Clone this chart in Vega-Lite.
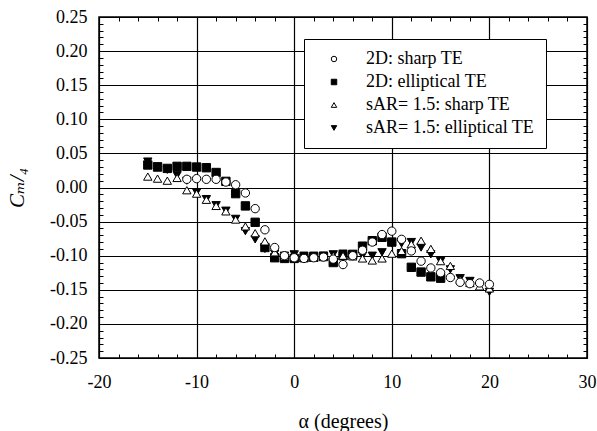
{
  "$schema": "https://vega.github.io/schema/vega-lite/v6.json",
  "width": 488,
  "height": 341,
  "autosize": {"type": "none"},
  "padding": {"left": 99, "top": 17, "right": 10, "bottom": 73},
  "background": "white",
  "config": {
    "view": {"stroke": "black", "strokeWidth": 1.5},
    "font": "Liberation Serif, Times New Roman, DejaVu Serif, serif"
  },
  "datasets": {
    "pts": [
      {"s": "2D: elliptical TE", "a": -15, "cm": 0.033},
      {"s": "2D: elliptical TE", "a": -14, "cm": 0.030},
      {"s": "2D: elliptical TE", "a": -13, "cm": 0.028},
      {"s": "2D: elliptical TE", "a": -12, "cm": 0.031},
      {"s": "2D: elliptical TE", "a": -11, "cm": 0.031},
      {"s": "2D: elliptical TE", "a": -10, "cm": 0.030},
      {"s": "2D: elliptical TE", "a": -9, "cm": 0.029},
      {"s": "2D: elliptical TE", "a": -8, "cm": 0.022},
      {"s": "2D: elliptical TE", "a": -7, "cm": 0.009},
      {"s": "2D: elliptical TE", "a": -6, "cm": -0.009},
      {"s": "2D: elliptical TE", "a": -5, "cm": -0.027},
      {"s": "2D: elliptical TE", "a": -4, "cm": -0.051},
      {"s": "2D: elliptical TE", "a": -3, "cm": -0.088},
      {"s": "2D: elliptical TE", "a": -2, "cm": -0.103},
      {"s": "2D: elliptical TE", "a": -1, "cm": -0.104},
      {"s": "2D: elliptical TE", "a": 0, "cm": -0.104},
      {"s": "2D: elliptical TE", "a": 1, "cm": -0.103},
      {"s": "2D: elliptical TE", "a": 2, "cm": -0.102},
      {"s": "2D: elliptical TE", "a": 3, "cm": -0.101},
      {"s": "2D: elliptical TE", "a": 4, "cm": -0.110},
      {"s": "2D: elliptical TE", "a": 5, "cm": -0.100},
      {"s": "2D: elliptical TE", "a": 6, "cm": -0.098},
      {"s": "2D: elliptical TE", "a": 7, "cm": -0.086},
      {"s": "2D: elliptical TE", "a": 8, "cm": -0.078},
      {"s": "2D: elliptical TE", "a": 9, "cm": -0.073},
      {"s": "2D: elliptical TE", "a": 10, "cm": -0.080},
      {"s": "2D: elliptical TE", "a": 11, "cm": -0.097},
      {"s": "2D: elliptical TE", "a": 12, "cm": -0.117},
      {"s": "2D: elliptical TE", "a": 13, "cm": -0.124},
      {"s": "2D: elliptical TE", "a": 14, "cm": -0.131},
      {"s": "2D: elliptical TE", "a": 15, "cm": -0.133},

      {"s": "sAR= 1.5: elliptical TE", "a": -15, "cm": 0.038},
      {"s": "sAR= 1.5: elliptical TE", "a": -14, "cm": 0.031},
      {"s": "sAR= 1.5: elliptical TE", "a": -13, "cm": 0.026},
      {"s": "sAR= 1.5: elliptical TE", "a": -12, "cm": 0.018},
      {"s": "sAR= 1.5: elliptical TE", "a": -11, "cm": 0.010},
      {"s": "sAR= 1.5: elliptical TE", "a": -10, "cm": -0.007},
      {"s": "sAR= 1.5: elliptical TE", "a": -9, "cm": -0.017},
      {"s": "sAR= 1.5: elliptical TE", "a": -8, "cm": -0.026},
      {"s": "sAR= 1.5: elliptical TE", "a": -7, "cm": -0.034},
      {"s": "sAR= 1.5: elliptical TE", "a": -6, "cm": -0.046},
      {"s": "sAR= 1.5: elliptical TE", "a": -5, "cm": -0.064},
      {"s": "sAR= 1.5: elliptical TE", "a": -4, "cm": -0.076},
      {"s": "sAR= 1.5: elliptical TE", "a": -3, "cm": -0.090},
      {"s": "sAR= 1.5: elliptical TE", "a": -2, "cm": -0.097},
      {"s": "sAR= 1.5: elliptical TE", "a": -1, "cm": -0.100},
      {"s": "sAR= 1.5: elliptical TE", "a": 0, "cm": -0.098},
      {"s": "sAR= 1.5: elliptical TE", "a": 1, "cm": -0.100},
      {"s": "sAR= 1.5: elliptical TE", "a": 2, "cm": -0.100},
      {"s": "sAR= 1.5: elliptical TE", "a": 3, "cm": -0.100},
      {"s": "sAR= 1.5: elliptical TE", "a": 4, "cm": -0.098},
      {"s": "sAR= 1.5: elliptical TE", "a": 5, "cm": -0.097},
      {"s": "sAR= 1.5: elliptical TE", "a": 6, "cm": -0.100},
      {"s": "sAR= 1.5: elliptical TE", "a": 7, "cm": -0.100},
      {"s": "sAR= 1.5: elliptical TE", "a": 8, "cm": -0.100},
      {"s": "sAR= 1.5: elliptical TE", "a": 9, "cm": -0.095},
      {"s": "sAR= 1.5: elliptical TE", "a": 10, "cm": -0.082},
      {"s": "sAR= 1.5: elliptical TE", "a": 11, "cm": -0.082},
      {"s": "sAR= 1.5: elliptical TE", "a": 12, "cm": -0.080},
      {"s": "sAR= 1.5: elliptical TE", "a": 13, "cm": -0.088},
      {"s": "sAR= 1.5: elliptical TE", "a": 14, "cm": -0.098},
      {"s": "sAR= 1.5: elliptical TE", "a": 15, "cm": -0.108},
      {"s": "sAR= 1.5: elliptical TE", "a": 16, "cm": -0.120},
      {"s": "sAR= 1.5: elliptical TE", "a": 17, "cm": -0.133},
      {"s": "sAR= 1.5: elliptical TE", "a": 18, "cm": -0.137},
      {"s": "sAR= 1.5: elliptical TE", "a": 19, "cm": -0.145},
      {"s": "sAR= 1.5: elliptical TE", "a": 20, "cm": -0.153},

      {"s": "sAR= 1.5: sharp TE", "a": -15, "cm": 0.016},
      {"s": "sAR= 1.5: sharp TE", "a": -14, "cm": 0.013},
      {"s": "sAR= 1.5: sharp TE", "a": -13, "cm": 0.010},
      {"s": "sAR= 1.5: sharp TE", "a": -12, "cm": 0.014},
      {"s": "sAR= 1.5: sharp TE", "a": -11, "cm": -0.004},
      {"s": "sAR= 1.5: sharp TE", "a": -10, "cm": -0.009},
      {"s": "sAR= 1.5: sharp TE", "a": -9, "cm": -0.018},
      {"s": "sAR= 1.5: sharp TE", "a": -8, "cm": -0.027},
      {"s": "sAR= 1.5: sharp TE", "a": -7, "cm": -0.035},
      {"s": "sAR= 1.5: sharp TE", "a": -6, "cm": -0.047},
      {"s": "sAR= 1.5: sharp TE", "a": -5, "cm": -0.057},
      {"s": "sAR= 1.5: sharp TE", "a": -4, "cm": -0.067},
      {"s": "sAR= 1.5: sharp TE", "a": -3, "cm": -0.079},
      {"s": "sAR= 1.5: sharp TE", "a": -2, "cm": -0.095},
      {"s": "sAR= 1.5: sharp TE", "a": -1, "cm": -0.101},
      {"s": "sAR= 1.5: sharp TE", "a": 0, "cm": -0.102},
      {"s": "sAR= 1.5: sharp TE", "a": 1, "cm": -0.103},
      {"s": "sAR= 1.5: sharp TE", "a": 2, "cm": -0.103},
      {"s": "sAR= 1.5: sharp TE", "a": 3, "cm": -0.102},
      {"s": "sAR= 1.5: sharp TE", "a": 4, "cm": -0.100},
      {"s": "sAR= 1.5: sharp TE", "a": 5, "cm": -0.100},
      {"s": "sAR= 1.5: sharp TE", "a": 6, "cm": -0.101},
      {"s": "sAR= 1.5: sharp TE", "a": 7, "cm": -0.104},
      {"s": "sAR= 1.5: sharp TE", "a": 8, "cm": -0.107},
      {"s": "sAR= 1.5: sharp TE", "a": 9, "cm": -0.104},
      {"s": "sAR= 1.5: sharp TE", "a": 10, "cm": -0.097},
      {"s": "sAR= 1.5: sharp TE", "a": 11, "cm": -0.093},
      {"s": "sAR= 1.5: sharp TE", "a": 12, "cm": -0.083},
      {"s": "sAR= 1.5: sharp TE", "a": 13, "cm": -0.078},
      {"s": "sAR= 1.5: sharp TE", "a": 14, "cm": -0.090},
      {"s": "sAR= 1.5: sharp TE", "a": 15, "cm": -0.108},
      {"s": "sAR= 1.5: sharp TE", "a": 16, "cm": -0.115},
      {"s": "sAR= 1.5: sharp TE", "a": 17, "cm": -0.135},
      {"s": "sAR= 1.5: sharp TE", "a": 18, "cm": -0.140},
      {"s": "sAR= 1.5: sharp TE", "a": 19, "cm": -0.145},
      {"s": "sAR= 1.5: sharp TE", "a": 20, "cm": -0.148},

      {"s": "2D: sharp TE", "a": -11, "cm": 0.012},
      {"s": "2D: sharp TE", "a": -10, "cm": 0.013},
      {"s": "2D: sharp TE", "a": -9, "cm": 0.012},
      {"s": "2D: sharp TE", "a": -8, "cm": 0.012},
      {"s": "2D: sharp TE", "a": -7, "cm": 0.008},
      {"s": "2D: sharp TE", "a": -6, "cm": 0.004},
      {"s": "2D: sharp TE", "a": -5, "cm": -0.008},
      {"s": "2D: sharp TE", "a": -4, "cm": -0.031},
      {"s": "2D: sharp TE", "a": -3, "cm": -0.062},
      {"s": "2D: sharp TE", "a": -2, "cm": -0.088},
      {"s": "2D: sharp TE", "a": -1, "cm": -0.100},
      {"s": "2D: sharp TE", "a": 0, "cm": -0.103},
      {"s": "2D: sharp TE", "a": 1, "cm": -0.104},
      {"s": "2D: sharp TE", "a": 2, "cm": -0.103},
      {"s": "2D: sharp TE", "a": 3, "cm": -0.102},
      {"s": "2D: sharp TE", "a": 4, "cm": -0.105},
      {"s": "2D: sharp TE", "a": 5, "cm": -0.113},
      {"s": "2D: sharp TE", "a": 6, "cm": -0.100},
      {"s": "2D: sharp TE", "a": 7, "cm": -0.092},
      {"s": "2D: sharp TE", "a": 8, "cm": -0.080},
      {"s": "2D: sharp TE", "a": 9, "cm": -0.069},
      {"s": "2D: sharp TE", "a": 10, "cm": -0.064},
      {"s": "2D: sharp TE", "a": 11, "cm": -0.076},
      {"s": "2D: sharp TE", "a": 12, "cm": -0.093},
      {"s": "2D: sharp TE", "a": 13, "cm": -0.108},
      {"s": "2D: sharp TE", "a": 14, "cm": -0.118},
      {"s": "2D: sharp TE", "a": 15, "cm": -0.125},
      {"s": "2D: sharp TE", "a": 16, "cm": -0.132},
      {"s": "2D: sharp TE", "a": 17, "cm": -0.139},
      {"s": "2D: sharp TE", "a": 18, "cm": -0.141},
      {"s": "2D: sharp TE", "a": 19, "cm": -0.140},
      {"s": "2D: sharp TE", "a": 20, "cm": -0.142}
    ]
  },
  "data": {"name": "pts"},
  "resolve": {"axis": {"x": "independent", "y": "independent"}},
  "layer": [
    {
      "mark": {"type": "point", "filled": true, "stroke": "black", "strokeWidth": 1, "size": 70, "opacity": 1},
      "encoding": {
        "x": {
          "field": "a", "type": "quantitative",
          "scale": {"domain": [-20, 30], "nice": false, "zero": false},
          "axis": {
            "orient": "bottom",
            "title": "α (degrees)",
            "titleFont": "Liberation Serif, Times New Roman, DejaVu Serif, serif", "titleFontSize": 20, "titleFontWeight": "normal", "titleColor": "black",
            "titlePadding": 20,
            "values": [-20, -18, -16, -14, -12, -10, -8, -6, -4, -2, 0, 2, 4, 6, 8, 10, 12, 14, 16, 18, 20, 22, 24, 26, 28, 30],
            "labelExpr": "datum.value % 10 == 0 ? replace(format(datum.value, 'd'), '−', '-') : ''",
            "labelFont": "Liberation Serif, Times New Roman, DejaVu Serif, serif", "labelFontSize": 18, "labelColor": "black",
            "labelPadding": 19, "labelFlush": false,
            "domain": false,
            "tickColor": "black", "tickSize": -4, "tickWidth": 1,
            "grid": true, "gridColor": "black", "gridWidth": 1.2,
            "gridOpacity": {"condition": {"test": "datum.value % 10 == 0", "value": 1}, "value": 0}
          }
        },
        "y": {
          "field": "cm", "type": "quantitative",
          "scale": {"domain": [-0.25, 0.25], "nice": false, "zero": false},
          "axis": {
            "orient": "left",
            "title": "Cₘ/₄",
            "titleFont": "Liberation Serif, Times New Roman, DejaVu Serif, serif", "titleFontSize": 21, "titleFontStyle": "italic", "titleFontWeight": "normal", "titleColor": "black",
            "titlePadding": 22,
            "values": [-0.25, -0.24, -0.23, -0.22, -0.21, -0.2, -0.19, -0.18, -0.17, -0.16, -0.15, -0.14, -0.13, -0.12, -0.11, -0.1, -0.09, -0.08, -0.07, -0.06, -0.05, -0.04, -0.03, -0.02, -0.01, 0, 0.01, 0.02, 0.03, 0.04, 0.05, 0.06, 0.07, 0.08, 0.09, 0.1, 0.11, 0.12, 0.13, 0.14, 0.15, 0.16, 0.17, 0.18, 0.19, 0.2, 0.21, 0.22, 0.23, 0.24, 0.25],
            "labelExpr": "abs(round(datum.value * 100)) % 5 == 0 ? replace(format(datum.value, '.2f'), '−', '-') : ''",
            "labelFont": "Liberation Serif, Times New Roman, DejaVu Serif, serif", "labelFontSize": 18, "labelColor": "black",
            "labelPadding": 16, "labelFlush": false,
            "domain": false,
            "tickColor": "black", "tickSize": -4, "tickWidth": 1,
            "grid": true, "gridColor": "black", "gridWidth": 1.2,
            "gridOpacity": {"condition": {"test": "abs(round(datum.value * 100)) % 5 == 0", "value": 1}, "value": 0}
          }
        },
        "shape": {
          "field": "s", "type": "nominal",
          "scale": {
            "domain": ["2D: sharp TE", "2D: elliptical TE", "sAR= 1.5: sharp TE", "sAR= 1.5: elliptical TE"],
            "range": ["circle", "square", "triangle-up", "triangle-down"]
          },
          "legend": {
            "title": null, "orient": "none", "legendX": 205, "legendY": 22,
            "fillColor": "white", "strokeColor": "black",
            "padding": 11, "rowPadding": 5, "symbolOffset": 10,
            "symbolSize": 30, "symbolStrokeColor": "black", "symbolStrokeWidth": 1, "symbolOpacity": 1,
            "labelFont": "Liberation Serif, Times New Roman, DejaVu Serif, serif", "labelFontSize": 18, "labelColor": "black",
            "labelOffset": 23, "labelLimit": 400,
            "encode": {"symbols": {"update": {"stroke": {"value": "black"}, "strokeWidth": {"value": 1}, "opacity": {"value": 1}}}}
          }
        },
        "fill": {
          "field": "s", "type": "nominal",
          "scale": {
            "domain": ["2D: sharp TE", "2D: elliptical TE", "sAR= 1.5: sharp TE", "sAR= 1.5: elliptical TE"],
            "range": ["white", "black", "white", "black"]
          },
          "legend": {
            "title": null, "orient": "none", "legendX": 205, "legendY": 22,
            "fillColor": "white", "strokeColor": "black",
            "padding": 11, "rowPadding": 5, "symbolOffset": 10,
            "symbolSize": 30, "symbolStrokeColor": "black", "symbolStrokeWidth": 1, "symbolOpacity": 1,
            "labelFont": "Liberation Serif, Times New Roman, DejaVu Serif, serif", "labelFontSize": 18, "labelColor": "black",
            "labelOffset": 23, "labelLimit": 400,
            "encode": {"symbols": {"update": {"stroke": {"value": "black"}, "strokeWidth": {"value": 1}, "opacity": {"value": 1}}}}
          }
        }
      }
    },
    {
      "mark": {"type": "point", "opacity": 0},
      "encoding": {
        "x": {
          "field": "a", "type": "quantitative",
          "axis": {
            "orient": "top", "title": null, "labels": false, "grid": false, "domain": false,
            "values": [-20, -18, -16, -14, -12, -10, -8, -6, -4, -2, 0, 2, 4, 6, 8, 10, 12, 14, 16, 18, 20, 22, 24, 26, 28, 30],
            "tickColor": "black", "tickSize": -4, "tickWidth": 1
          }
        },
        "y": {
          "field": "cm", "type": "quantitative",
          "axis": {
            "orient": "right", "title": null, "labels": false, "grid": false, "domain": false,
            "values": [-0.25, -0.24, -0.23, -0.22, -0.21, -0.2, -0.19, -0.18, -0.17, -0.16, -0.15, -0.14, -0.13, -0.12, -0.11, -0.1, -0.09, -0.08, -0.07, -0.06, -0.05, -0.04, -0.03, -0.02, -0.01, 0, 0.01, 0.02, 0.03, 0.04, 0.05, 0.06, 0.07, 0.08, 0.09, 0.1, 0.11, 0.12, 0.13, 0.14, 0.15, 0.16, 0.17, 0.18, 0.19, 0.2, 0.21, 0.22, 0.23, 0.24, 0.25],
            "tickColor": "black", "tickSize": -4, "tickWidth": 1
          }
        }
      }
    }
  ]
}
